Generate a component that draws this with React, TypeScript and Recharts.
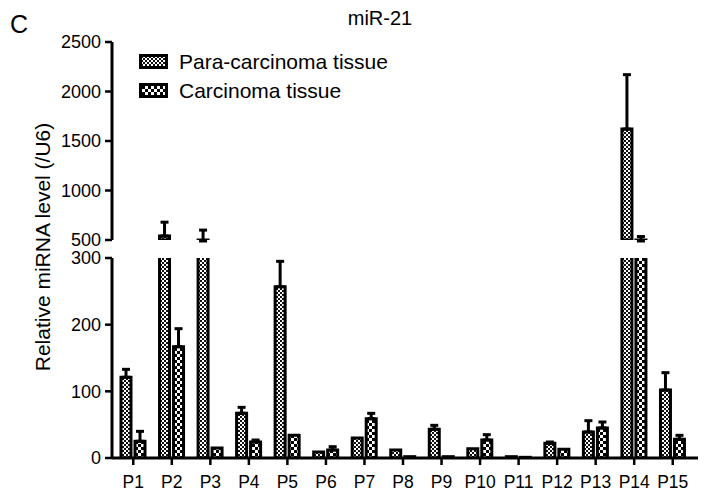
import React from "react"
import { BarChart, Bar, XAxis, YAxis, ErrorBar, Legend } from "recharts"

// values (relative to U6), mean and upward SD
const patients = ["P1", "P2", "P3", "P4", "P5", "P6", "P7", "P8", "P9", "P10", "P11", "P12", "P13", "P14", "P15"]
const paraMean = [121, 540, 490, 67, 257, 9, 30, 12, 43, 14, 2, 22, 39, 1620, 102]
const paraSd = [12, 140, 110, 9, 38, 0, 0, 0, 6, 0, 0, 2, 17, 550, 26]
const carcMean = [25, 167, 15, 24, 34, 12, 59, 2, 2, 27, 1, 13, 45, 490, 28]
const carcSd = [15, 27, 0, 3, 0, 5, 8, 0, 0, 8, 0, 0, 9, 45, 6]

const upperTicks = [500, 1000, 1500, 2000, 2500]
const lowerTicks = [0, 100, 200, 300]
const BREAK_LO = 300
const BREAK_HI = 500

const PARA = "Para-carcinoma tissue"
const CARC = "Carcinoma tissue"
const legendOrder = [PARA, CARC]
const font = "'Liberation Sans', Arial, sans-serif"

const err = (s: number, ok: boolean) => (ok && s > 0 ? [0, s] : null)

const rows = patients.map((p, i) => ({
  name: p,
  paraHi: paraMean[i] + paraSd[i] > BREAK_HI ? paraMean[i] : null,
  paraHiErr: err(paraSd[i], paraMean[i] + paraSd[i] > BREAK_HI),
  carcHi: carcMean[i] + carcSd[i] > BREAK_HI ? carcMean[i] : null,
  carcHiErr: err(carcSd[i], carcMean[i] + carcSd[i] > BREAK_HI),
  para: paraMean[i],
  paraErr: err(paraSd[i], paraMean[i] + paraSd[i] <= BREAK_LO),
  carc: carcMean[i],
  carcErr: err(carcSd[i], carcMean[i] + carcSd[i] <= BREAK_LO),
}))

const fills: Record<string, string> = { [PARA]: "url(#paraPat)", [CARC]: "url(#carcPat)" }

const tickStyle = { fill: "#000", fontSize: 18, fontFamily: font }
const axisLine = { stroke: "#000", strokeWidth: 3 }
const tickLine = { stroke: "#000", strokeWidth: 2.5 }

function LegendBox(props: any) {
  const items = [...(props.payload || [])].sort(
    (a: any, b: any) => legendOrder.indexOf(a.value) - legendOrder.indexOf(b.value)
  )
  return (
    <div style={{ fontFamily: font, fontSize: 21, color: "#000" }}>
      {items.map((it: any) => (
        <div key={it.value} style={{ display: "flex", alignItems: "center", height: 29 }}>
          <svg width={29} height={15}>
            <rect x={1.5} y={1.5} width={26} height={12} fill={fills[it.value]} stroke="#000" strokeWidth={3} />
          </svg>
          <span style={{ marginLeft: 11 }}>{it.value}</span>
        </div>
      ))}
    </div>
  )
}

export default function App() {
  return (
    <div style={{ position: "absolute", left: 0, top: 0, width: 708, height: 496, background: "#fff" }}>
      <svg width={0} height={0} style={{ position: "absolute" }}>
        <defs>
          <pattern id="paraPat" width={4} height={4} patternUnits="userSpaceOnUse">
            <rect width={4} height={4} fill="#fff" />
            <rect width={2} height={2} fill="#111" />
            <rect x={2} y={2} width={2} height={2} fill="#111" />
          </pattern>
          <pattern id="carcPat" width={6} height={6} patternUnits="userSpaceOnUse">
            <rect width={6} height={6} fill="#fff" />
            <rect width={3} height={3} fill="#000" />
            <rect x={3} y={3} width={3} height={3} fill="#000" />
          </pattern>
        </defs>
      </svg>

      <div style={{ position: "absolute", left: 0, top: 0 }}>
        <BarChart width={708} height={250} data={rows} margin={{ top: 42, right: 10, bottom: 10, left: 0 }} barSize={10} barGap={4}>
          <XAxis dataKey="name" hide padding={{ left: 2, right: 6 }} />
          <YAxis
            width={112}
            domain={[BREAK_HI, 2500]}
            ticks={upperTicks}
            interval={0}
            allowDataOverflow
            tick={tickStyle}
            tickSize={7}
            tickMargin={4}
            axisLine={axisLine}
            tickLine={tickLine}
          />
          <Legend
            layout="vertical"
            align="center"
            verticalAlign="middle"
            wrapperStyle={{ left: 139, top: 47, width: 300 }}
            content={LegendBox}
          />
          <Bar dataKey="paraHi" name={PARA} fill="url(#paraPat)" stroke="#000" strokeWidth={3} isAnimationActive={false}>
            <ErrorBar dataKey="paraHiErr" direction="y" width={4} stroke="#000" strokeWidth={3} />
          </Bar>
          <Bar dataKey="carcHi" name={CARC} fill="url(#carcPat)" stroke="#000" strokeWidth={3} isAnimationActive={false}>
            <ErrorBar dataKey="carcHiErr" direction="y" width={4} stroke="#000" strokeWidth={3} />
          </Bar>
        </BarChart>
      </div>

      <div style={{ position: "absolute", left: 0, top: 240 }}>
        <BarChart width={708} height={256} data={rows} margin={{ top: 18, right: 10, bottom: 0, left: 0 }} barSize={10} barGap={4}>
          <XAxis
            dataKey="name"
            height={38}
            padding={{ left: 2, right: 6 }}
            tick={{ ...tickStyle, fontSize: 17.5 }}
            tickSize={7}
            tickMargin={11}
            interval={0}
            axisLine={axisLine}
            tickLine={tickLine}
          />
          <YAxis
            width={112}
            domain={[0, BREAK_LO]}
            ticks={lowerTicks}
            interval={0}
            allowDataOverflow
            tick={tickStyle}
            tickSize={7}
            tickMargin={4}
            axisLine={axisLine}
            tickLine={tickLine}
          />
          <Bar dataKey="para" name={PARA} fill="url(#paraPat)" stroke="#000" strokeWidth={3} isAnimationActive={false}>
            <ErrorBar dataKey="paraErr" direction="y" width={4} stroke="#000" strokeWidth={3} />
          </Bar>
          <Bar dataKey="carc" name={CARC} fill="url(#carcPat)" stroke="#000" strokeWidth={3} isAnimationActive={false}>
            <ErrorBar dataKey="carcErr" direction="y" width={4} stroke="#000" strokeWidth={3} />
          </Bar>
        </BarChart>
      </div>

      <svg width={708} height={496} style={{ position: "absolute", left: 0, top: 0, pointerEvents: "none" }}>
        <text x={10} y={33} fontSize={25} fontFamily={font} fill="#000">C</text>
        <text x={380} y={25} fontSize={20} fontFamily={font} fill="#000" textAnchor="middle">miR-21</text>
        <text x={50} y={247} fontSize={21} fontFamily={font} fill="#000" textAnchor="middle" transform="rotate(-90 50 247)">
          Relative miRNA level (/U6)
        </text>
      </svg>
    </div>
  )
}
